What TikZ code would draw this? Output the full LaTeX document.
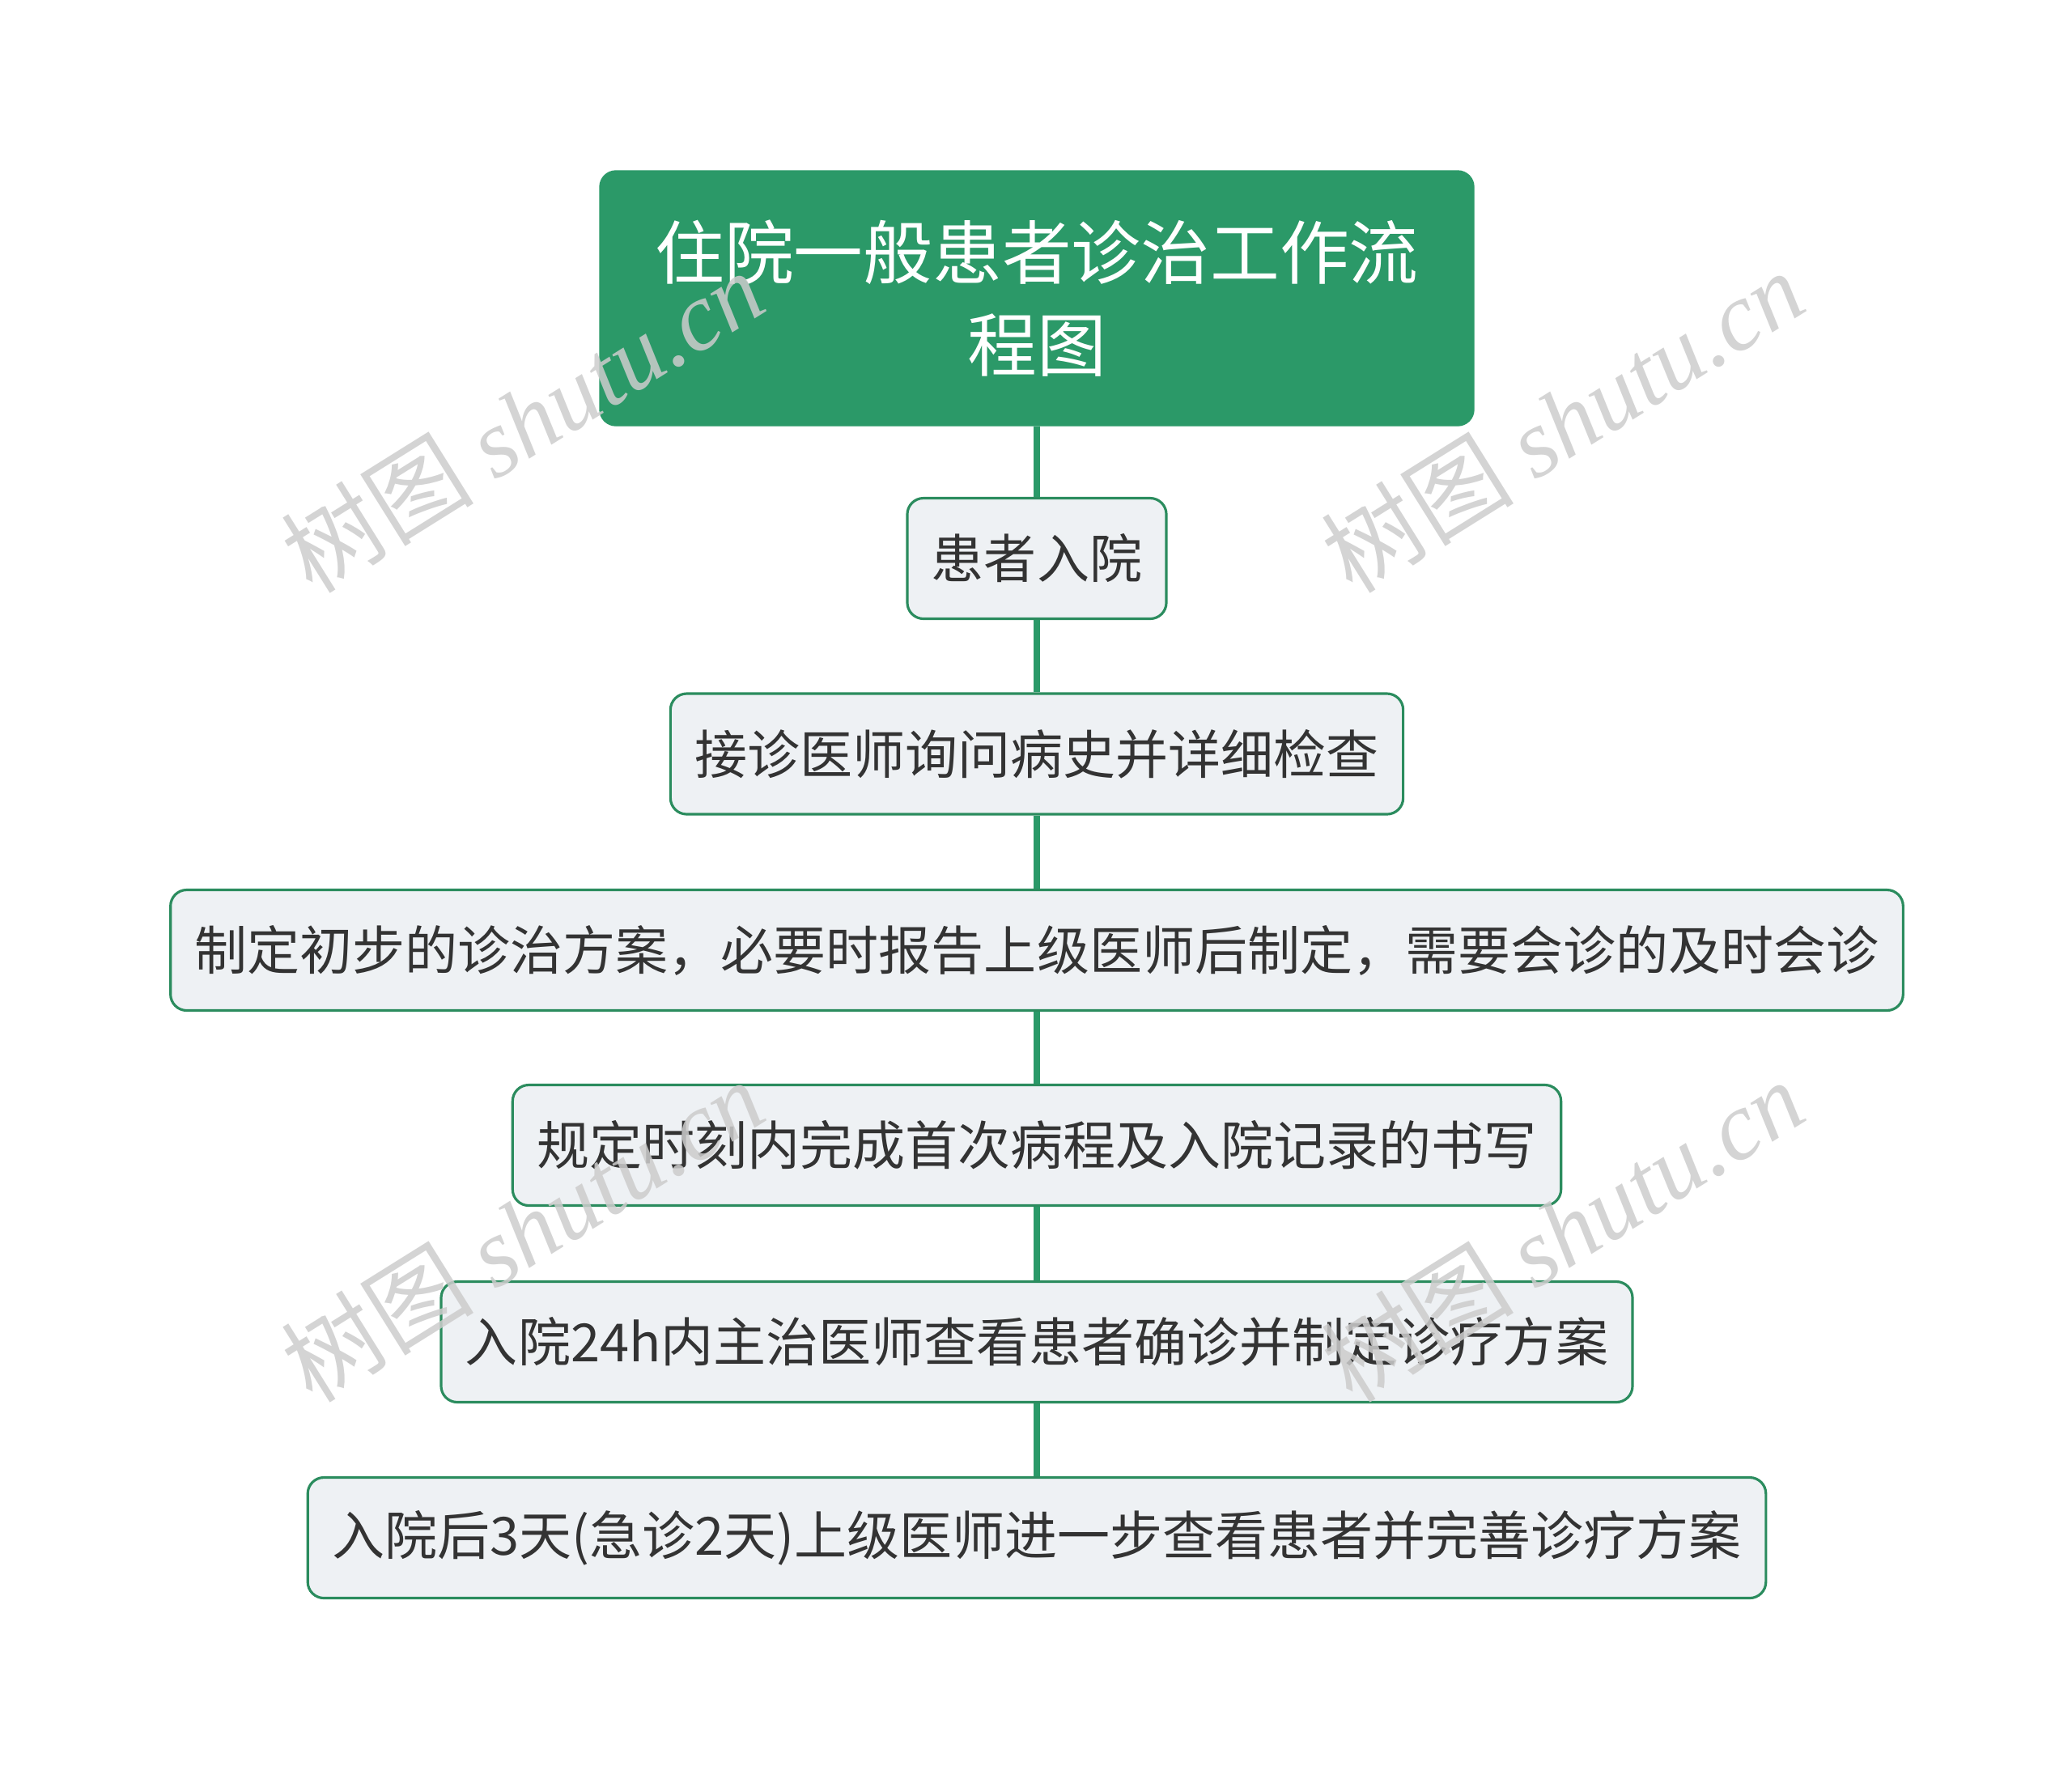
\documentclass[tikz,border=0pt]{standalone}
\usepackage{fontspec}
\setmainfont{Noto Sans CJK SC}
\newfontfamily\wmlatin{Liberation Serif}
\usetikzlibrary{shapes}
\definecolor{mapgreen}{HTML}{2B9968}
\definecolor{edgegreen}{HTML}{2B8C5E}
\definecolor{boxfill}{HTML}{EEF1F4}
\definecolor{txtgray}{HTML}{333333}
\definecolor{wmgray}{HTML}{CCCCCC}

\begin{document}
\begin{tikzpicture}
\tikzstyle{root}=[rectangle,rounded corners=0.2cm,fill=mapgreen,draw=mapgreen,text=white,minimum width=10.8cm,minimum height=3.15cm,align=center,font=\fontsize{24.4pt}{32.6pt}\selectfont]
\tikzstyle{stepbox}=[rectangle,rounded corners=0.2cm,fill=boxfill,draw=edgegreen,line width=0.9pt,text=txtgray,minimum height=1.49cm,inner xsep=0.3cm,font=\fontsize{18.5pt}{22pt}\selectfont]
\tikzstyle{link}=[draw=mapgreen,line width=2.3pt]
\tikzstyle{wmark}=[text=wmgray,opacity=0.85,rotate=32,font=\fontsize{34pt}{38pt}\selectfont]
\useasboundingbox (0,0) rectangle (25.6,-21.81);

\node[root](T) at (12.81,-3.685) {住院一般患者诊治工作流\\程图};
\node[stepbox](A) at (12.81,-6.90) {患者入院};
\node[stepbox](B) at (12.81,-9.315) {接诊医师询问病史并详细检查};
\node[stepbox,minimum width=21.3cm](C) at (12.81,-11.74) {制定初步的诊治方案，必要时报告上级医师后制定，需要会诊的及时会诊};
\node[stepbox](D) at (12.81,-14.15) {规定时刻内完成首次病程及入院记录的书写};
\node[stepbox](E) at (12.81,-16.58) {入院24h内主治医师查看患者确诊并制定诊疗方案};
\node[stepbox](F) at (12.81,-19.0) {入院后3天(急诊2天)上级医师进一步查看患者并完善诊疗方案};

\draw[link] (T) -- (A);
\draw[link] (A) -- (B);
\draw[link] (B) -- (C);
\draw[link] (C) -- (D);
\draw[link] (D) -- (E);
\draw[link] (E) -- (F);

\node[wmark](W1) at (6.45,-5.2) {树图 {\wmlatin\itshape shutu.cn}};
\node[wmark](W2) at (19.3,-5.2) {树图 {\wmlatin\itshape shutu.cn}};
\node[wmark](W3) at (6.45,-15.2) {树图 {\wmlatin\itshape shutu.cn}};
\node[wmark](W4) at (19.3,-15.2) {树图 {\wmlatin\itshape shutu.cn}};
\end{tikzpicture}
\end{document}
